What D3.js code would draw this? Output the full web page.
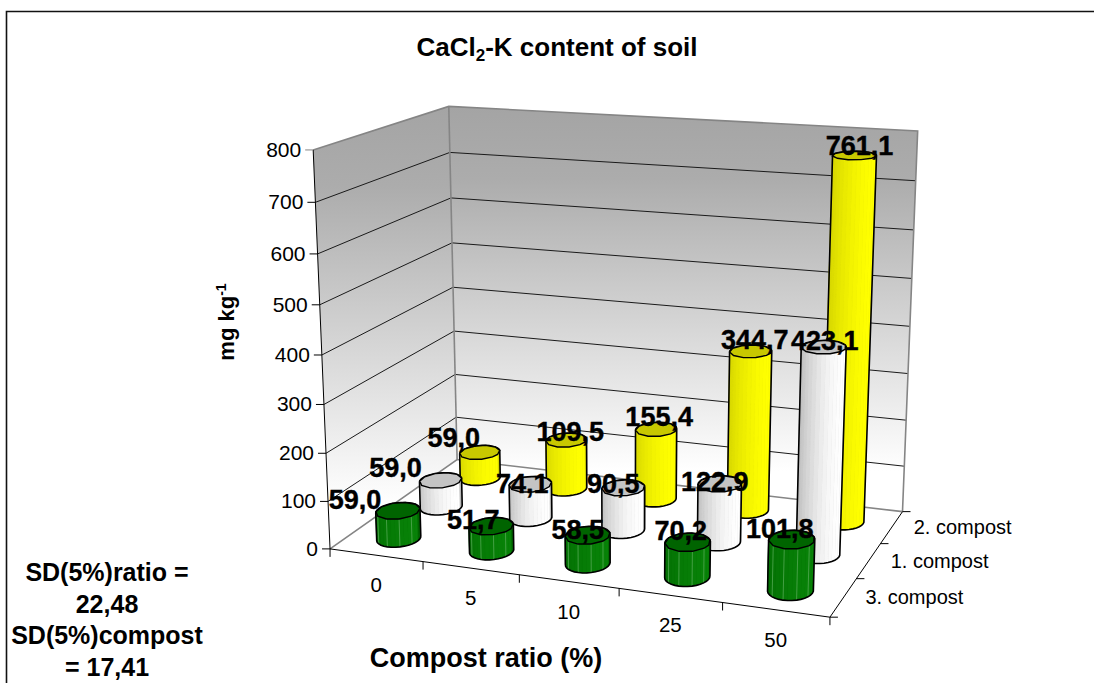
<!DOCTYPE html>
<html><head><meta charset="utf-8">
<script src="https://cdn.jsdelivr.net/npm/d3@7"></script>
<style>html,body{margin:0;padding:0;background:#fff}svg{display:block}text{font-family:"Liberation Sans",Arial,sans-serif;fill:#000}</style>
</head><body><svg id="c" width="1094" height="683"></svg>
<script>
const categories = ["0","5","10","25","50"];
const depthLabels = ["3. compost","1. compost","2. compost"];
const yTicks = [0,100,200,300,400,500,600,700,800];
const compost3 = [59.0,51.7,58.5,70.2,101.8];
const compost1 = [59.0,74.1,90.5,122.9,423.1];
const compost2 = [59.0,109.5,155.4,344.7,761.1];
const seriesValues = [compost3,compost1,compost2];
const seriesBody = [["#0a8a0a","#006400"],["#ffffff","#b8b8b8"],["#ffff00","#d2d200"]];
const seriesTop = ["#006400","#c4c4c4","#c8c800"];
const labelDx = [[-43,-18,-10,-7,-12],[-45,-8,-10,-5,1],[-26,4,3,4,5]];
const labelDy = [[-2,3,4,-2,-2],[-3,9,5,7,3],[-5,1,-3,-2,0]];

// Camera calibration: world (X,Z,Y in 0..1) -> pixel, least squares
const calib = [
 [0,0,0,330,549],[0,0,1,313,150],[0,1,0,457,459],[0,1,1,449,106],
 [1,1,0,903,512],[1,1,1,918,131],[1,0,0,830,617],
 [0,0,.5,322,355],[0,1,.5,453,288],[1,1,.5,909,326]];
function solve(A,b){const n=b.length,M=A.map((r,i)=>[...r,b[i]]);
 for(let i=0;i<n;i++){let p=i;for(let k=i+1;k<n;k++)if(Math.abs(M[k][i])>Math.abs(M[p][i]))p=k;[M[i],M[p]]=[M[p],M[i]];
  for(let k=i+1;k<n;k++){const f=M[k][i]/M[i][i];for(let j=i;j<=n;j++)M[k][j]-=f*M[i][j];}}
 const x=new Array(n);for(let i=n-1;i>=0;i--){let s=M[i][n];for(let j=i+1;j<n;j++)s-=M[i][j]*x[j];x[i]=s/M[i][i];}return x;}
const rows=[],rhs=[];
calib.forEach(([X,Z,Y,u,v])=>{u/=1000;v/=1000;
 rows.push([X,Z,Y,1,0,0,0,0,-u*X,-u*Z,-u*Y]);rhs.push(u);
 rows.push([0,0,0,0,X,Z,Y,1,-v*X,-v*Z,-v*Y]);rhs.push(v);});
const AtA=d3.range(11).map(i=>d3.range(11).map(j=>d3.sum(rows,r=>r[i]*r[j])));
const Atb=d3.range(11).map(i=>d3.sum(rows,(r,k)=>r[i]*rhs[k]));
const m=solve(AtA,Atb);
function P(X,Z,Y){const w=m[8]*X+m[9]*Z+m[10]*Y+1;
 return [1000*(m[0]*X+m[1]*Z+m[2]*Y+m[3])/w,1000*(m[4]*X+m[5]*Z+m[6]*Y+m[7])/w];}

const xS=d3.scaleBand().domain(categories).range([0,1]);
const zS=d3.scaleBand().domain(depthLabels).range([0,1]);
const yS=d3.scaleLinear().domain([0,800]).range([0,1]);
const line=d3.line();
const closed=pts=>line(pts)+"Z";
const svg=d3.select("#c");

// frame: left and top edges visible, right and bottom run off the page
svg.append("path").attr("d",line([[6.5,690],[6.5,11.5],[1100,11.5]])).attr("fill","none").attr("stroke","#111").attr("stroke-width",1.6);

// wall gradients
const defs=svg.append("defs");
function grad(id){const g=defs.append("linearGradient").attr("id",id).attr("x1",0).attr("x2",0).attr("y1",0).attr("y2",1);
 g.append("stop").attr("offset",0).attr("stop-color","#a4a4a4");
 g.append("stop").attr("offset",.18).attr("stop-color","#acacac");
 g.append("stop").attr("offset",.9).attr("stop-color","#ffffff");
 g.append("stop").attr("offset",1).attr("stop-color","#ffffff");}
grad("wl");grad("wr");
const gray="#858585";
svg.append("path").attr("d",closed([P(0,0,0),P(0,0,1),P(0,1,1),P(0,1,0)])).attr("fill","url(#wl)");
svg.append("path").attr("d",closed([P(0,1,0),P(0,1,1),P(1,1,1),P(1,1,0)])).attr("fill","url(#wr)");
svg.append("path").attr("d",closed([P(0,0,0),P(0,1,0),P(1,1,0),P(1,0,0)])).attr("fill","#fff");
// gridlines
yTicks.slice(1,-1).forEach(t=>{const y=yS(t);
 svg.append("path").attr("d",line([P(0,0,y),P(0,1,y),P(1,1,y)])).attr("fill","none").attr("stroke","#1a1a1a").attr("stroke-width",1);});
// grey wall edges
[[P(0,0,1),P(0,1,1),P(1,1,1),P(1,1,0)],[P(0,1,0),P(0,1,1)],[P(0,0,0),P(0,1,0),P(1,1,0)]].forEach(p=>
 svg.append("path").attr("d",line(p)).attr("fill","none").attr("stroke",gray).attr("stroke-width",1.6));
// axes
const ax=[[P(0,0,0),P(0,0,1)],[P(0,0,0),P(1,0,0)],[P(1,0,0),P(1,1,0)]];
ax.forEach(p=>svg.append("path").attr("d",line(p)).attr("fill","none").attr("stroke","#000").attr("stroke-width",1));
// y ticks
yTicks.forEach(t=>{const a=P(0,0,yS(t));
 svg.append("path").attr("d",line([[a[0]-8,a[1]],a])).attr("stroke",t==800?gray:"#000").attr("fill","none");
 svg.append("text").attr("x",a[0]-12).attr("y",a[1]+7).attr("text-anchor","end").attr("font-size",21).text(t);});
// x ticks
d3.range(0,categories.length+1).forEach(i=>{const a=P(i/categories.length,0,0);
 svg.append("path").attr("d",line([a,[a[0],a[1]+8]])).attr("stroke","#000").attr("fill","none");});
categories.forEach(c=>{const a=P(xS(c)+xS.bandwidth()/2,0,0);
 svg.append("text").attr("x",a[0]).attr("y",a[1]+37).attr("text-anchor","middle").attr("font-size",20.5).text(c);});
// depth ticks
d3.range(0,depthLabels.length+1).forEach(i=>{const a=P(1,i/depthLabels.length,0);
 svg.append("path").attr("d",line([a,[a[0]+8,a[1]]])).attr("stroke","#000").attr("fill","none");});
depthLabels.forEach(c=>{const a=P(1,zS(c)+zS.bandwidth()/2,0);
 svg.append("text").attr("x",a[0]+22).attr("y",a[1]+7).attr("font-size",20).text(c);});

// bars, back to front
const rx=.0415,rz=.085,N=32;
const gBars=svg.append("g"),gLabels=svg.append("g");
function cyl(ci,si,v){
 const cx=xS(categories[ci])+xS.bandwidth()/2, cz=zS(depthLabels[si])+zS.bandwidth()/2, h=yS(v);
 const angs=d3.range(N).map(i=>i/N*2*Math.PI);
 const base=angs.map(a=>P(cx+rx*Math.cos(a),cz+rz*Math.sin(a),0));
 const top=angs.map(a=>P(cx+rx*Math.cos(a),cz+rz*Math.sin(a),h));
 const c=d3.interpolateRgb(seriesBody[si][0],seriesBody[si][1]);
 const hull=d3.polygonHull(base.concat(top));
 gBars.append("path").attr("d",closed(hull)).attr("fill",seriesBody[si][1]);
 const order=d3.range(N).filter(i=>Math.sin(angs[i]+Math.PI/N)<0);
 order.forEach(i=>{const j=(i+1)%N;
  const t=1-(Math.cos(angs[i]+Math.PI/N)+1)/2;
  const shade=si==0?c(.2+t*.5):c(Math.pow(t,1.25));
  gBars.append("path").attr("d",closed([base[i],base[j],top[j],top[i]])).attr("fill",shade).attr("stroke",shade).attr("stroke-width",.4);
  if(si==0&&i%3==0) gBars.append("path").attr("d",line([base[i],top[i]])).attr("stroke","#5fb05f").attr("stroke-width",.7).attr("fill","none");
 });
 gBars.append("path").attr("d",closed(hull)).attr("fill","none").attr("stroke","#000").attr("stroke-width",1.6);
 gBars.append("path").attr("d",closed(top.filter((d,i)=>i%3==0))).attr("fill",seriesTop[si]).attr("stroke","#000").attr("stroke-width",1.4);
 const tc=P(cx,cz,h);
 gLabels.append("text").attr("x",tc[0]+labelDx[si][ci]).attr("y",tc[1]+labelDy[si][ci]).attr("text-anchor","middle")
  .attr("font-size",27).attr("font-weight","bold").attr("stroke","#000").attr("stroke-width",.4).text(String(v.toFixed(1)).replace(".",","));
}
[2,1,0].forEach(si=>categories.forEach((c,ci)=>cyl(ci,si,seriesValues[si][ci])));

// titles
const t=svg.append("text").attr("x",557).attr("y",56).attr("text-anchor","middle").attr("font-size",26).attr("font-weight","bold");
t.append("tspan").text("CaCl");t.append("tspan").attr("dy",5).attr("font-size",17).text("2");t.append("tspan").attr("dy",-5).text("-K content of soil");
const yt=svg.append("text").attr("transform","translate(234,322) rotate(-90)").attr("text-anchor","middle").attr("font-size",22).attr("font-weight","bold");
yt.append("tspan").text("mg kg");yt.append("tspan").attr("dy",-8).attr("font-size",14).text("-1");
svg.append("text").attr("x",486).attr("y",667).attr("text-anchor","middle").attr("font-size",27).attr("font-weight","bold").text("Compost ratio (%)");
const sdLines=["SD(5%)ratio =","22,48","SD(5%)compost","= 17,41"];
svg.selectAll(".sd").data(sdLines).join("text").attr("class","sd").attr("x",107).attr("y",(d,i)=>[581,613,644,676][i]).attr("text-anchor","middle").attr("font-size",25).attr("font-weight","bold").text(d=>d);
</script></body></html>
